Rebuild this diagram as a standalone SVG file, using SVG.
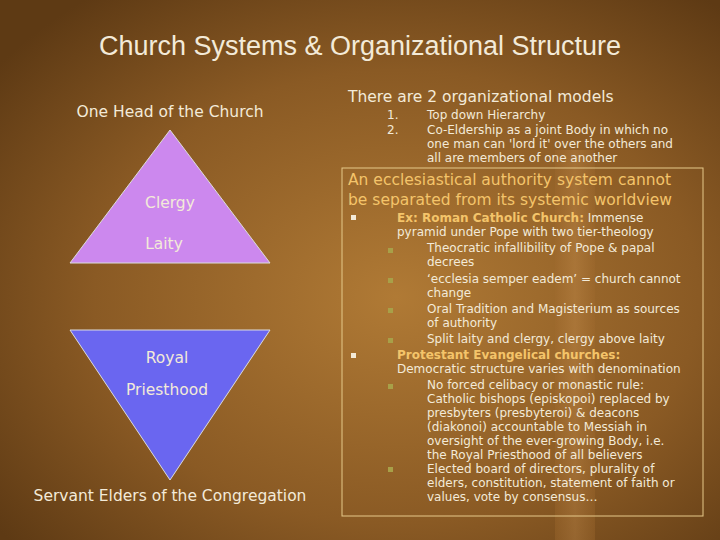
<svg xmlns="http://www.w3.org/2000/svg" width="720" height="540" viewBox="0 0 720 540">
<defs>
<radialGradient id="bg" cx="0.55" cy="0.55" r="0.7">
<stop offset="0" stop-color="#b07a35"/><stop offset="0.6" stop-color="#8a5a24"/><stop offset="1" stop-color="#5e3a14"/>
</radialGradient>
<linearGradient id="pole" x1="0" x2="1"><stop offset="0" stop-color="#a06a2e"/><stop offset="0.5" stop-color="#c89050"/><stop offset="1" stop-color="#a06a2e"/></linearGradient>
</defs>
<style>
text{font-family:"DejaVu Sans","Liberation Sans",sans-serif;fill:#f3ead8}
.t{font-size:12px}
.h{font-size:15.5px}
.o{fill:#f4c46a;font-weight:bold}
.b{fill:#f3ead8}
.g{fill:#a8a048}
</style>
<rect width="720" height="540" fill="url(#bg)"/>
<rect x="555" y="150" width="40" height="390" fill="url(#pole)" opacity="0.35"/>
<text x="360" y="55" text-anchor="middle" font-family="Liberation Sans" style="font-family:'Liberation Sans',sans-serif;font-size:27px">Church Systems &amp; Organizational Structure</text>
<text x="170" y="117" text-anchor="middle" class="h">One Head of the Church</text>
<g id="upper">
<polygon points="170,130 270,263 70,263" fill="#cc88ee" stroke="#dddddd" stroke-width="1"/>
<text x="170" y="208" text-anchor="middle" class="h">Clergy</text>
<text x="164" y="249" text-anchor="middle" class="h">Laity</text>
</g>
<g id="lower">
<polygon points="70,330 270,330 170,480" fill="#6a66f0" stroke="#dddddd" stroke-width="1"/>
<text x="167" y="363" text-anchor="middle" class="h">Royal</text>
<text x="167" y="395" text-anchor="middle" class="h">Priesthood</text>
</g>
<text x="170" y="501" text-anchor="middle" class="h">Servant Elders of the Congregation</text>
<text x="348" y="102" class="h">There are 2 organizational models</text>
<g class="t">
<text x="387" y="119">1.</text><text x="427" y="119">Top down Hierarchy</text>
<text x="387" y="134">2.</text><text x="427" y="134">Co-Eldership as a joint Body in which no</text>
<text x="427" y="148">one man can 'lord it' over the others and</text>
<text x="427" y="162">all are members of one another</text>
</g>
<rect x="342" y="168" width="361" height="348" fill="none" stroke="#e6c98a" stroke-width="1"/>
<text x="348" y="185" class="h" style="fill:#f4c46a">An ecclesiastical authority system cannot</text>
<text x="348" y="205" class="h" style="fill:#f4c46a">be separated from its systemic worldview</text>
<g class="t">
<rect x="351" y="215" width="5" height="5" class="b"/>
<text x="397" y="222"><tspan class="o">Ex: Roman Catholic Church:</tspan> Immense</text>
<text x="397" y="236">pyramid under Pope with two tier-theology</text>
<rect x="388" y="248" width="5" height="5" class="g"/>
<text x="427" y="252">Theocratic infallibility of Pope &amp; papal</text>
<text x="427" y="266">decrees</text>
<rect x="388" y="278" width="5" height="5" class="g"/>
<text x="427" y="283">‘ecclesia semper eadem’ = church cannot</text>
<text x="427" y="297">change</text>
<rect x="388" y="308" width="5" height="5" class="g"/>
<text x="427" y="313">Oral Tradition and Magisterium as sources</text>
<text x="427" y="327">of authority</text>
<rect x="388" y="338" width="5" height="5" class="g"/>
<text x="427" y="343">Split laity and clergy, clergy above laity</text>
<rect x="351" y="353" width="5" height="5" class="b"/>
<text x="397" y="359" class="o">Protestant Evangelical churches:</text>
<text x="397" y="373">Democratic structure varies with denomination</text>
<rect x="388" y="384" width="5" height="5" class="g"/>
<text x="427" y="389">No forced celibacy or monastic rule:</text>
<text x="427" y="403">Catholic bishops (episkopoi) replaced by</text>
<text x="427" y="417">presbyters (presbyteroi) &amp; deacons</text>
<text x="427" y="431">(diakonoi) accountable to Messiah in</text>
<text x="427" y="445">oversight of the ever-growing Body, i.e.</text>
<text x="427" y="459">the Royal Priesthood of all believers</text>
<rect x="388" y="467" width="5" height="5" class="g"/>
<text x="427" y="473">Elected board of directors, plurality of</text>
<text x="427" y="487">elders, constitution, statement of faith or</text>
<text x="427" y="501">values, vote by consensus…</text>
</g>
</svg>
